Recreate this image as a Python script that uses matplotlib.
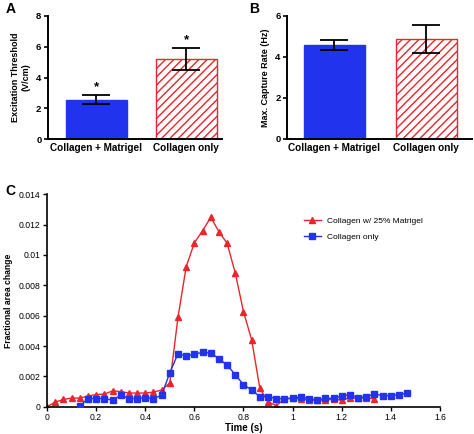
import numpy as np
import matplotlib.pyplot as plt

plt.rcParams['font.family'] = ['Liberation Sans', 'DejaVu Sans']
plt.rcParams['hatch.linewidth'] = 1.0

# === DATA ===
groups = ["Collagen + Matrigel", "Collagen only"]
thresh_mean = [2.55, 5.22]
thresh_err = [0.29, 0.72]
capture_mean = [4.60, 4.88]
capture_err = [0.24, 0.67]

# time course (30 fps)
t_red = np.arange(41) / 30.0
red_vals = [0, 0.0003, 0.00048, 0.00057, 0.00057, 0.0007, 0.0008, 0.00083, 0.00104, 0.001,
            0.0009, 0.0009, 0.0009, 0.00096, 0.0011, 0.00157, 0.0059, 0.00923, 0.0108, 0.0116,
            0.01248, 0.01154, 0.01077, 0.0088, 0.00626, 0.0044, 0.0012, 0.00033, 0.00007, 0.0005,
            0.00055, 0.00052, 0.00044, 0.00042, 0.00044, 0.0005, 0.00042, 0.00058, 0.00055, 0.0006,
            0.0005]
t_blue = np.arange(4, 45) / 30.0
blue_vals = [0.00003, 0.00054, 0.00054, 0.00054, 0.00043, 0.00076, 0.00054, 0.00054, 0.00059, 0.00054,
             0.00076, 0.00224, 0.0035, 0.00333, 0.00346, 0.00359, 0.00354, 0.00317, 0.00274, 0.00211,
             0.00146, 0.0011, 0.00066, 0.00066, 0.00053, 0.00053, 0.00057, 0.00066, 0.00053, 0.00044,
             0.00055, 0.00055, 0.0007, 0.00079, 0.00059, 0.00066, 0.00084, 0.00073, 0.00073, 0.00079,
             0.0009]

BLUE = '#2233EE'
RED = '#E8262B'

fig = plt.figure(figsize=(4.74, 4.34), dpi=100)


def bar_panel(ax, means, errs, ylim, yticks, ylabel, xlim, width, stars=False):
    x = np.arange(len(means))
    ax.bar(x[0], means[0], width=width, color=BLUE, edgecolor=BLUE, zorder=2)
    ax.bar(x[1], means[1], width=width, color='white', edgecolor=RED, hatch='////',
           linewidth=1.0, zorder=2)
    ax.errorbar(x, means, yerr=errs, fmt='none', ecolor='black', elinewidth=1.3,
                capsize=10, capthick=1.3, zorder=3)
    if stars:
        for xi, m, e in zip(x, means, errs):
            ax.text(xi, m + e + 0.12, '*', ha='center', va='bottom', fontsize=9.5, fontweight='bold')
    ax.set_xlim(*xlim)
    ax.set_ylim(*ylim)
    ax.set_yticks(yticks)
    ax.set_xticks(x)
    ax.set_xticklabels(groups, fontsize=7.2, fontweight='bold')
    ax.set_ylabel(ylabel, fontsize=6.5, fontweight='bold', labelpad=4)
    for s in ['top', 'right']:
        ax.spines[s].set_visible(False)
    for s in ['left', 'bottom']:
        ax.spines[s].set_linewidth(1.4)
    ax.tick_params(axis='y', labelsize=6.8, width=1.2, length=3, pad=1.5)
    ax.tick_params(axis='x', length=0, pad=3)
    for lab in ax.get_yticklabels():
        lab.set_fontweight('bold')


axA = fig.add_axes([0.1006, 0.679, 0.367, 0.2848])
bar_panel(axA, thresh_mean, thresh_err, (0, 8), [0, 2, 4, 6, 8],
          "Excitation Threshold\n(V/cm)", (-0.54, 1.395), 0.68, stars=True)

axB = fig.add_axes([0.605, 0.680, 0.391, 0.2834])
bar_panel(axB, capture_mean, capture_err, (0, 6), [0, 2, 4, 6],
          "Max. Capture Rate (Hz)", (-0.516, 1.498), 0.66)

axC = fig.add_axes([0.0992, 0.0629, 0.829, 0.4894])
axC.plot(t_red, red_vals, color=RED, marker='^', markersize=4, linewidth=1.0,
         label="Collagen w/ 25% Matrigel", zorder=2)
axC.plot(t_blue, blue_vals, color=BLUE, marker='s', markersize=4, linewidth=1.0,
         label="Collagen only", zorder=3)
axC.set_xlim(0, 1.6)
axC.set_ylim(0, 0.014)
xt = np.arange(0, 1.61, 0.2)
axC.set_xticks(xt)
axC.set_xticklabels(["0", "0.2", "0.4", "0.6", "0.8", "1", "1.2", "1.4", "1.6"])
yt = np.arange(0, 0.0141, 0.002)
axC.set_yticks(yt)
axC.set_yticklabels(["0", "0.002", "0.004", "0.006", "0.008", "0.01", "0.012", "0.014"])
axC.tick_params(labelsize=6.2, width=1.0, length=3, pad=1.5)
for s in ['top', 'right']:
    axC.spines[s].set_visible(False)
for s in ['left', 'bottom']:
    axC.spines[s].set_linewidth(1.2)
axC.set_xlabel("Time (s)", fontsize=7, fontweight='bold', labelpad=1)
axC.set_ylabel("Fractional area change", fontsize=6.2, fontweight='bold', labelpad=4)
axC.legend(loc='upper left', bbox_to_anchor=(0.635, 0.93), frameon=False, fontsize=6.0,
           handlelength=2.0, labelspacing=1.0)

fig.text(0.012, 0.995, "A", fontsize=10, fontweight='bold', va='top')
fig.text(0.525, 0.995, "B", fontsize=10, fontweight='bold', va='top')
fig.text(0.012, 0.575, "C", fontsize=10, fontweight='bold', va='top')

fig.savefig("out.png", dpi=100)
